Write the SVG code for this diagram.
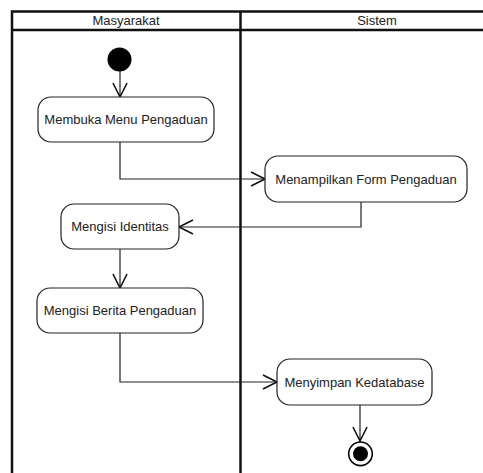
<svg xmlns="http://www.w3.org/2000/svg" width="483" height="473" viewBox="0 0 483 473">
<defs>
<style>
.lane{fill:none;stroke:#111;stroke-width:2.5}
.act{fill:#fff;stroke:#222;stroke-width:1.2}
.txt{font-family:"Liberation Sans",Arial,sans-serif;font-size:13px;fill:#222;text-anchor:middle}
.conn{fill:none;stroke:#222;stroke-width:1.2}
</style>
<marker id="arr" markerUnits="userSpaceOnUse" markerWidth="18" markerHeight="18" refX="15" refY="8" orient="auto" viewBox="0 0 18 18">
<path d="M1,1 L15,8 L1,15" fill="none" stroke="#111" stroke-width="1.6"/>
</marker>
</defs>
<rect width="483" height="473" fill="#fff"/>
<g id="swimlanes">
<rect class="lane" x="12" y="11.5" width="502" height="480"/>
<line class="lane" x1="12" y1="30" x2="514" y2="30"/>
<line class="lane" x1="240.5" y1="11.5" x2="240.5" y2="492" stroke-width="3"/>
<text class="txt" x="126" y="25">Masyarakat</text>
<text class="txt" x="377" y="25">Sistem</text>
</g>
<g id="connectors">
<path class="conn" d="M120,71 L120,97" marker-end="url(#arr)"/>
<path class="conn" d="M120,142 L120,179 L265,179" marker-end="url(#arr)"/>
<path class="conn" d="M361,202 L361,227 L179,227" marker-end="url(#arr)"/>
<path class="conn" d="M120,249 L120,288" marker-end="url(#arr)"/>
<path class="conn" d="M120,333 L120,382 L277,382" marker-end="url(#arr)"/>
<path class="conn" d="M360,405 L360,441" marker-end="url(#arr)"/>
</g>
<g id="start">
<circle cx="119.5" cy="59.5" r="12" fill="#000"/>
</g>
<g id="act1">
<rect class="act" x="38" y="97" width="176" height="45" rx="13"/>
<text class="txt" x="126" y="124">Membuka Menu Pengaduan</text>
</g>
<g id="act2">
<rect class="act" x="265" y="156" width="202" height="46" rx="13"/>
<text class="txt" x="366" y="183.5">Menampilkan Form Pengaduan</text>
</g>
<g id="act3">
<rect class="act" x="61" y="204" width="118" height="45" rx="13"/>
<text class="txt" x="120" y="231">Mengisi Identitas</text>
</g>
<g id="act4">
<rect class="act" x="37" y="288" width="166" height="45" rx="13"/>
<text class="txt" x="120" y="315">Mengisi Berita Pengaduan</text>
</g>
<g id="act5">
<rect class="act" x="277" y="359" width="155" height="46" rx="13"/>
<text class="txt" x="354.5" y="386.5">Menyimpan Kedatabase</text>
</g>
<g id="end">
<circle cx="360.5" cy="453.8" r="11.8" fill="#fff" stroke="#000" stroke-width="1.6"/>
<circle cx="360.5" cy="453.8" r="7.5" fill="#000"/>
</g>
</svg>
